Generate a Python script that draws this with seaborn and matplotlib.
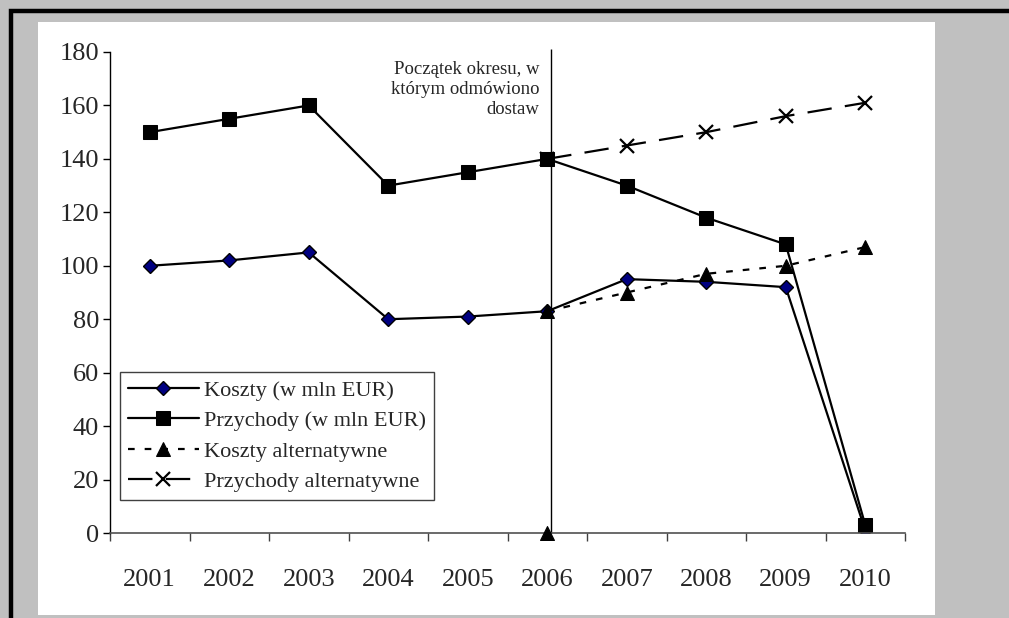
import numpy as np
import pandas as pd
import seaborn as sns
import matplotlib
matplotlib.use('Agg')
import matplotlib.pyplot as plt
from matplotlib.patches import Rectangle

years = [2001, 2002, 2003, 2004, 2005, 2006, 2007, 2008, 2009, 2010]
koszty = [100, 102, 105, 80, 81, 83, 95, 94, 92, 1]
przychody = [150, 155, 160, 130, 135, 140, 130, 118, 108, 3]
alt_years = [2006, 2007, 2008, 2009, 2010]
koszty_alt = [83, 90, 97, 100, 107]
przychody_alt = [140, 145, 150, 156, 161]
start_year = 2006
note = 'Początek okresu, w\nktórym odmówiono\ndostaw'

sns.set_theme(style='white')
plt.rcParams['font.family'] = ['Liberation Serif', 'DejaVu Serif']

W, H = 1009, 618
fig = plt.figure(figsize=(W / 100, H / 100), dpi=100)
fig.patch.set_facecolor('#c0c0c0')

# outer black frame and white plot area (pixel coords from top-left)
def px_rect(x0, y0, x1, y1, **kw):
    return Rectangle((x0 / W, 1 - y1 / H), (x1 - x0) / W, (y1 - y0) / H,
                     transform=fig.transFigure, figure=fig, zorder=-10, **kw)

fig.patches.append(px_rect(11, 11.5, 1030, 640, facecolor='none', edgecolor='black', lw=3.2))
fig.patches.append(px_rect(38, 22, 935, 615, facecolor='white', edgecolor='none'))

ax = fig.add_axes([110 / W, 1 - 533 / H, (905 - 110) / W, (533 - 52) / H])
ax.set_facecolor('white')
ax.patch.set_alpha(0)

lw = 1.6
sns.lineplot(x=alt_years, y=przychody_alt, ax=ax, color='black', lw=lw,
             linestyle=(0, (11, 6)), marker='x', markersize=10,
             markeredgecolor='black', markeredgewidth=1.6,
             label='Przychody alternatywne')
sns.lineplot(x=years, y=koszty, ax=ax, color='black', lw=lw, marker='D',
             markersize=7, markerfacecolor='#000080', markeredgecolor='black',
             markeredgewidth=1.0, label='Koszty (w mln EUR)')
sns.lineplot(x=alt_years, y=koszty_alt, ax=ax, color='black', lw=lw,
             linestyle=(0, (3, 4.5)), marker='^', markersize=10,
             markeredgecolor='black', label='Koszty alternatywne')
sns.lineplot(x=years, y=przychody, ax=ax, color='black', lw=lw, marker='s',
             markersize=10, markeredgecolor='black', label='Przychody (w mln EUR)')
# marker at zero for the start year
sns.scatterplot(x=[start_year], y=[0], ax=ax, color='black', marker='^', s=100,
                edgecolor='black', legend=False, zorder=5, clip_on=False)
ax.vlines(start_year + 0.05, 0, 181, color='black', lw=1.0, zorder=1,
          clip_on=False)

ax.text(start_year - 0.1, 176.5, note, ha='right', va='top', fontsize=13.5,
        linespacing=1.2)

ax.set_xlim(2000.5, 2010.5)
ax.set_ylim(0, 180)
ax.set_xticks(years)
ax.set_xticklabels([str(y) for y in years])
ax.set_xticks(np.arange(2000.5, 2011, 1), minor=True)
ax.set_yticks(range(0, 181, 20))
ax.tick_params(axis='x', which='major', length=0, pad=26, labelsize=19)
ax.tick_params(axis='x', which='minor', bottom=True, direction='out', length=6,
               width=1, color='#404040')
ax.tick_params(axis='y', left=True, direction='out', length=5, width=1,
               color='black', pad=3, labelsize=19)
for s in ['top', 'right']:
    ax.spines[s].set_visible(False)
ax.spines['left'].set_color('black')
ax.spines['left'].set_linewidth(1)
ax.spines['bottom'].set_color('#505050')
ax.spines['bottom'].set_linewidth(1.2)
ax.set_xlabel('')
ax.set_ylabel('')

handles, labels = ax.get_legend_handles_labels()
order = ['Koszty (w mln EUR)', 'Przychody (w mln EUR)', 'Koszty alternatywne',
         'Przychody alternatywne']
hmap = dict(zip(labels, handles))
leg = ax.legend([hmap[k] for k in order], order, loc='lower left',
                bbox_to_anchor=((120 - 110) / (905 - 110), (533 - 500) / (533 - 52)),
                fontsize=16, handlelength=3.2, handletextpad=0.25,
                labelspacing=0.45, borderpad=0.35, fancybox=False,
                framealpha=1, edgecolor='#404040', borderaxespad=0)
leg.get_frame().set_linewidth(1.0)

fig.savefig('out.png', dpi=100, facecolor=fig.get_facecolor())
